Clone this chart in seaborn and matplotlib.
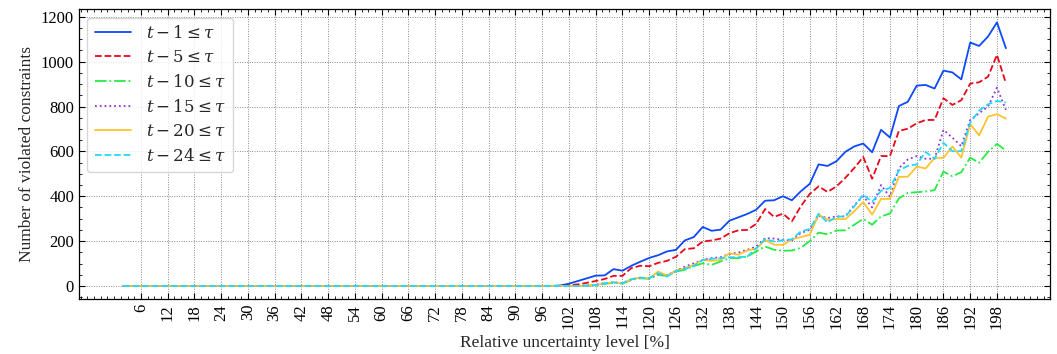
import numpy as np
import pandas as pd
import matplotlib
matplotlib.use("Agg")
import matplotlib.pyplot as plt
import seaborn as sns
from matplotlib.ticker import MultipleLocator, AutoMinorLocator

# ---- data ----
x_vals = list(range(2, 201, 2))
zeros_before = [0] * 49  # x = 2 .. 98 all zero

t1 = zeros_before + [2, 10, 22, 34, 46, 47, 75, 68, 90, 108, 125, 137, 154, 161, 203, 218, 263, 246, 251, 291,
                     306, 321, 340, 380, 382, 400, 382, 422, 455, 542, 535, 556, 598, 622, 635, 596, 696, 662,
                     802, 821, 893, 896, 880, 960, 952, 921, 1085, 1070, 1112, 1175, 1060]
t5 = zeros_before + [0, 3, 7, 14, 22, 31, 45, 45, 80, 90, 88, 103, 112, 130, 164, 168, 198, 203, 211, 235,
                     248, 250, 277, 343, 308, 322, 288, 355, 410, 444, 419, 444, 482, 526, 575, 478, 579, 579,
                     691, 701, 725, 740, 740, 837, 807, 828, 902, 908, 933, 1030, 904]
t10 = zeros_before + [0, 0, 0, 1, 3, 9, 14, 10, 27, 34, 32, 49, 45, 64, 72, 89, 101, 94, 109, 124,
                      124, 131, 154, 176, 161, 157, 158, 170, 200, 238, 230, 247, 248, 273, 299, 273, 310, 323,
                      390, 415, 418, 421, 427, 510, 489, 507, 572, 549, 598, 633, 604]
t15 = zeros_before + [0, 0, 0, 2, 5, 12, 16, 12, 30, 37, 34, 54, 48, 68, 86, 101, 116, 124, 128, 142,
                      149, 161, 176, 213, 211, 205, 203, 236, 250, 313, 303, 310, 310, 360, 400, 350, 450, 397,
                      525, 564, 579, 567, 567, 696, 661, 623, 740, 770, 800, 884, 785]
t20 = zeros_before + [0, 0, 0, 2, 5, 12, 16, 12, 30, 37, 34, 64, 46, 69, 79, 94, 116, 112, 116, 146,
                      139, 158, 166, 205, 184, 183, 208, 218, 228, 318, 295, 298, 298, 333, 374, 318, 388, 388,
                      486, 487, 532, 524, 571, 571, 622, 572, 722, 671, 755, 766, 746]
t24 = zeros_before + [0, 0, 0, 2, 5, 12, 16, 12, 30, 37, 34, 57, 42, 66, 76, 89, 116, 121, 124, 128,
                      128, 131, 168, 209, 198, 204, 208, 243, 254, 322, 283, 309, 310, 355, 407, 375, 424, 437,
                      515, 535, 542, 597, 567, 638, 601, 601, 728, 782, 810, 825, 818]

labels = [r"$t-1 \leq \tau$", r"$t-5 \leq \tau$", r"$t-10 \leq \tau$",
          r"$t-15 \leq \tau$", r"$t-20 \leq \tau$", r"$t-24 \leq \tau$"]
series = [t1, t5, t10, t15, t20, t24]
colors = ["#0d49fb", "#e6091c", "#26eb47", "#8936df", "#fec32d", "#25d7fd"]
styles = ["-", "--", "-.", ":", "-", "--"]

xticks = list(range(6, 199, 6))

# ---- style ----
sns.set_theme(style="white")
plt.rcParams["font.family"] = ["Liberation Serif", "DejaVu Serif"]
plt.rcParams["mathtext.fontset"] = "dejavuserif"
plt.rcParams["font.size"] = 12

fig = plt.figure(figsize=(10.57, 3.54), dpi=100)
ax = fig.add_axes([0.0747, 0.155, 0.9187, 0.819])

for y, lab, c, ls in zip(series, labels, colors, styles):
    df = pd.DataFrame({"x": x_vals, "y": y})
    sns.lineplot(data=df, x="x", y="y", ax=ax, color=c, linestyle=ls, linewidth=1.3, label=lab)

ax.set_xticks(xticks)
ax.set_xticklabels([str(v) for v in xticks], rotation=90, fontsize=12)
ax.xaxis.set_minor_locator(AutoMinorLocator(4))
ax.yaxis.set_major_locator(MultipleLocator(200))
ax.yaxis.set_minor_locator(AutoMinorLocator(4))
ax.tick_params(axis="both", which="both", direction="in", top=True, right=True, bottom=True, left=True,
               labelsize=12, colors="black")
ax.tick_params(which="major", length=4, width=0.8)
ax.tick_params(which="minor", length=2, width=0.6)

ax.grid(True, which="major", linestyle=(0, (1, 1.5)), color="#8a8a8a", linewidth=0.7)
for s in ax.spines.values():
    s.set_color("black")
    s.set_linewidth(0.9)

ax.set_xlabel("Relative uncertainty level [%]", fontsize=12.5)
ax.set_ylabel("Number of violated constraints", fontsize=12.5)

leg = ax.legend(loc="upper left", fontsize=12, frameon=True, fancybox=True,
                handlelength=2.2, handletextpad=0.85, labelspacing=0.48, borderpad=0.45)
leg.get_frame().set_edgecolor("#cccccc")

fig.savefig("out.png", dpi=100)
